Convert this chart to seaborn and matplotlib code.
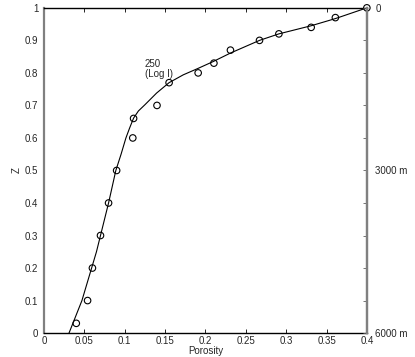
import numpy as np
import pandas as pd
import seaborn as sns
import matplotlib
matplotlib.use('Agg')
import matplotlib.pyplot as plt

sns.set_style('white')
plt.rcParams['font.family'] = ['Liberation Sans', 'DejaVu Sans']

# Measured porosity vs normalised depth Z
obs_porosity = [0.040, 0.054, 0.060, 0.070, 0.080, 0.090, 0.110, 0.111, 0.140,
                0.155, 0.191, 0.2105, 0.231, 0.267, 0.291, 0.331, 0.361, 0.400]
obs_z = [0.03, 0.10, 0.20, 0.30, 0.40, 0.50, 0.60, 0.66, 0.70,
         0.77, 0.80, 0.83, 0.87, 0.90, 0.92, 0.94, 0.97, 1.00]

# Fitted curve (250, Log I)
fit_porosity = [0.031, 0.039, 0.047, 0.053, 0.059, 0.065, 0.070, 0.080, 0.089,
                0.0955, 0.1015, 0.106, 0.111, 0.117, 0.125, 0.1395, 0.155,
                0.1725, 0.191, 0.2097, 0.231, 0.267, 0.291, 0.331, 0.361, 0.400]
fit_z = [0.00, 0.05, 0.10, 0.15, 0.20, 0.25, 0.30, 0.40, 0.50,
         0.55, 0.60, 0.63, 0.661, 0.683, 0.702, 0.738, 0.770,
         0.794, 0.814, 0.835, 0.861, 0.900, 0.920, 0.945, 0.967, 1.000]

x_ticks = [0, 0.05, 0.1, 0.15, 0.2, 0.25, 0.3, 0.35, 0.4]
x_tick_labels = ['0', '0.05', '0.1', '0.15', '0.2', '0.25', '0.3', '0.35', '0.4']
z_ticks = [0, 0.1, 0.2, 0.3, 0.4, 0.5, 0.6, 0.7, 0.8, 0.9, 1.0]
z_tick_labels = ['0', '0.1', '0.2', '0.3', '0.4', '0.5', '0.6', '0.7', '0.8', '0.9', '1']
depth_labels = ['6000 m', '', '', '', '', '3000 m', '', '', '', '', '0']

fit_df = pd.DataFrame({'porosity': fit_porosity, 'z': fit_z})
obs_df = pd.DataFrame({'porosity': obs_porosity, 'z': obs_z})

fig = plt.figure(figsize=(4.15, 3.57), dpi=100)
ax = fig.add_axes([0.106, 0.067, 0.778, 0.911])

sns.lineplot(data=fit_df, x='porosity', y='z', sort=False, color='black',
             linewidth=0.8, ax=ax)
sns.scatterplot(data=obs_df, x='porosity', y='z', marker='o', s=22,
                facecolor='none', edgecolor='black', linewidth=0.8, ax=ax,
                clip_on=False, zorder=3)

ax.set_xlim(0, 0.4)
ax.set_ylim(0, 1)
ax.set_xticks(x_ticks)
ax.set_xticklabels(x_tick_labels)
ax.set_yticks(z_ticks)
ax.set_yticklabels(z_tick_labels)
ax.set_xlabel('Porosity', fontsize=7, labelpad=0)
ax.set_ylabel('Z', fontsize=7, labelpad=2)
ax.tick_params(axis='x', direction='in', length=3, width=0.6, labelsize=7,
               top=True, bottom=True, pad=2, color='black')
ax.tick_params(axis='y', direction='in', length=0, labelsize=7, pad=4)

ax.text(0.125, 0.78, '250\n(Log I)', fontsize=7, ha='left', va='bottom',
        linespacing=1.0)

for side in ['top', 'bottom']:
    ax.spines[side].set_color('black')
    ax.spines[side].set_linewidth(1.0)
for side in ['left', 'right']:
    ax.spines[side].set_color('#808080')
    ax.spines[side].set_linewidth(1.6)

ax2 = ax.twinx()
ax2.set_ylim(0, 1)
ax2.set_yticks(z_ticks)
ax2.set_yticklabels(depth_labels)
ax2.tick_params(axis='y', direction='in', length=3, width=0.6, labelsize=7,
                pad=6, color='#606060')
for side in ['top', 'bottom', 'left']:
    ax2.spines[side].set_visible(False)
ax2.spines['right'].set_color('#808080')
ax2.spines['right'].set_linewidth(1.6)
ax2.grid(False)
ax.grid(False)

fig.savefig('out.png', dpi=100)
